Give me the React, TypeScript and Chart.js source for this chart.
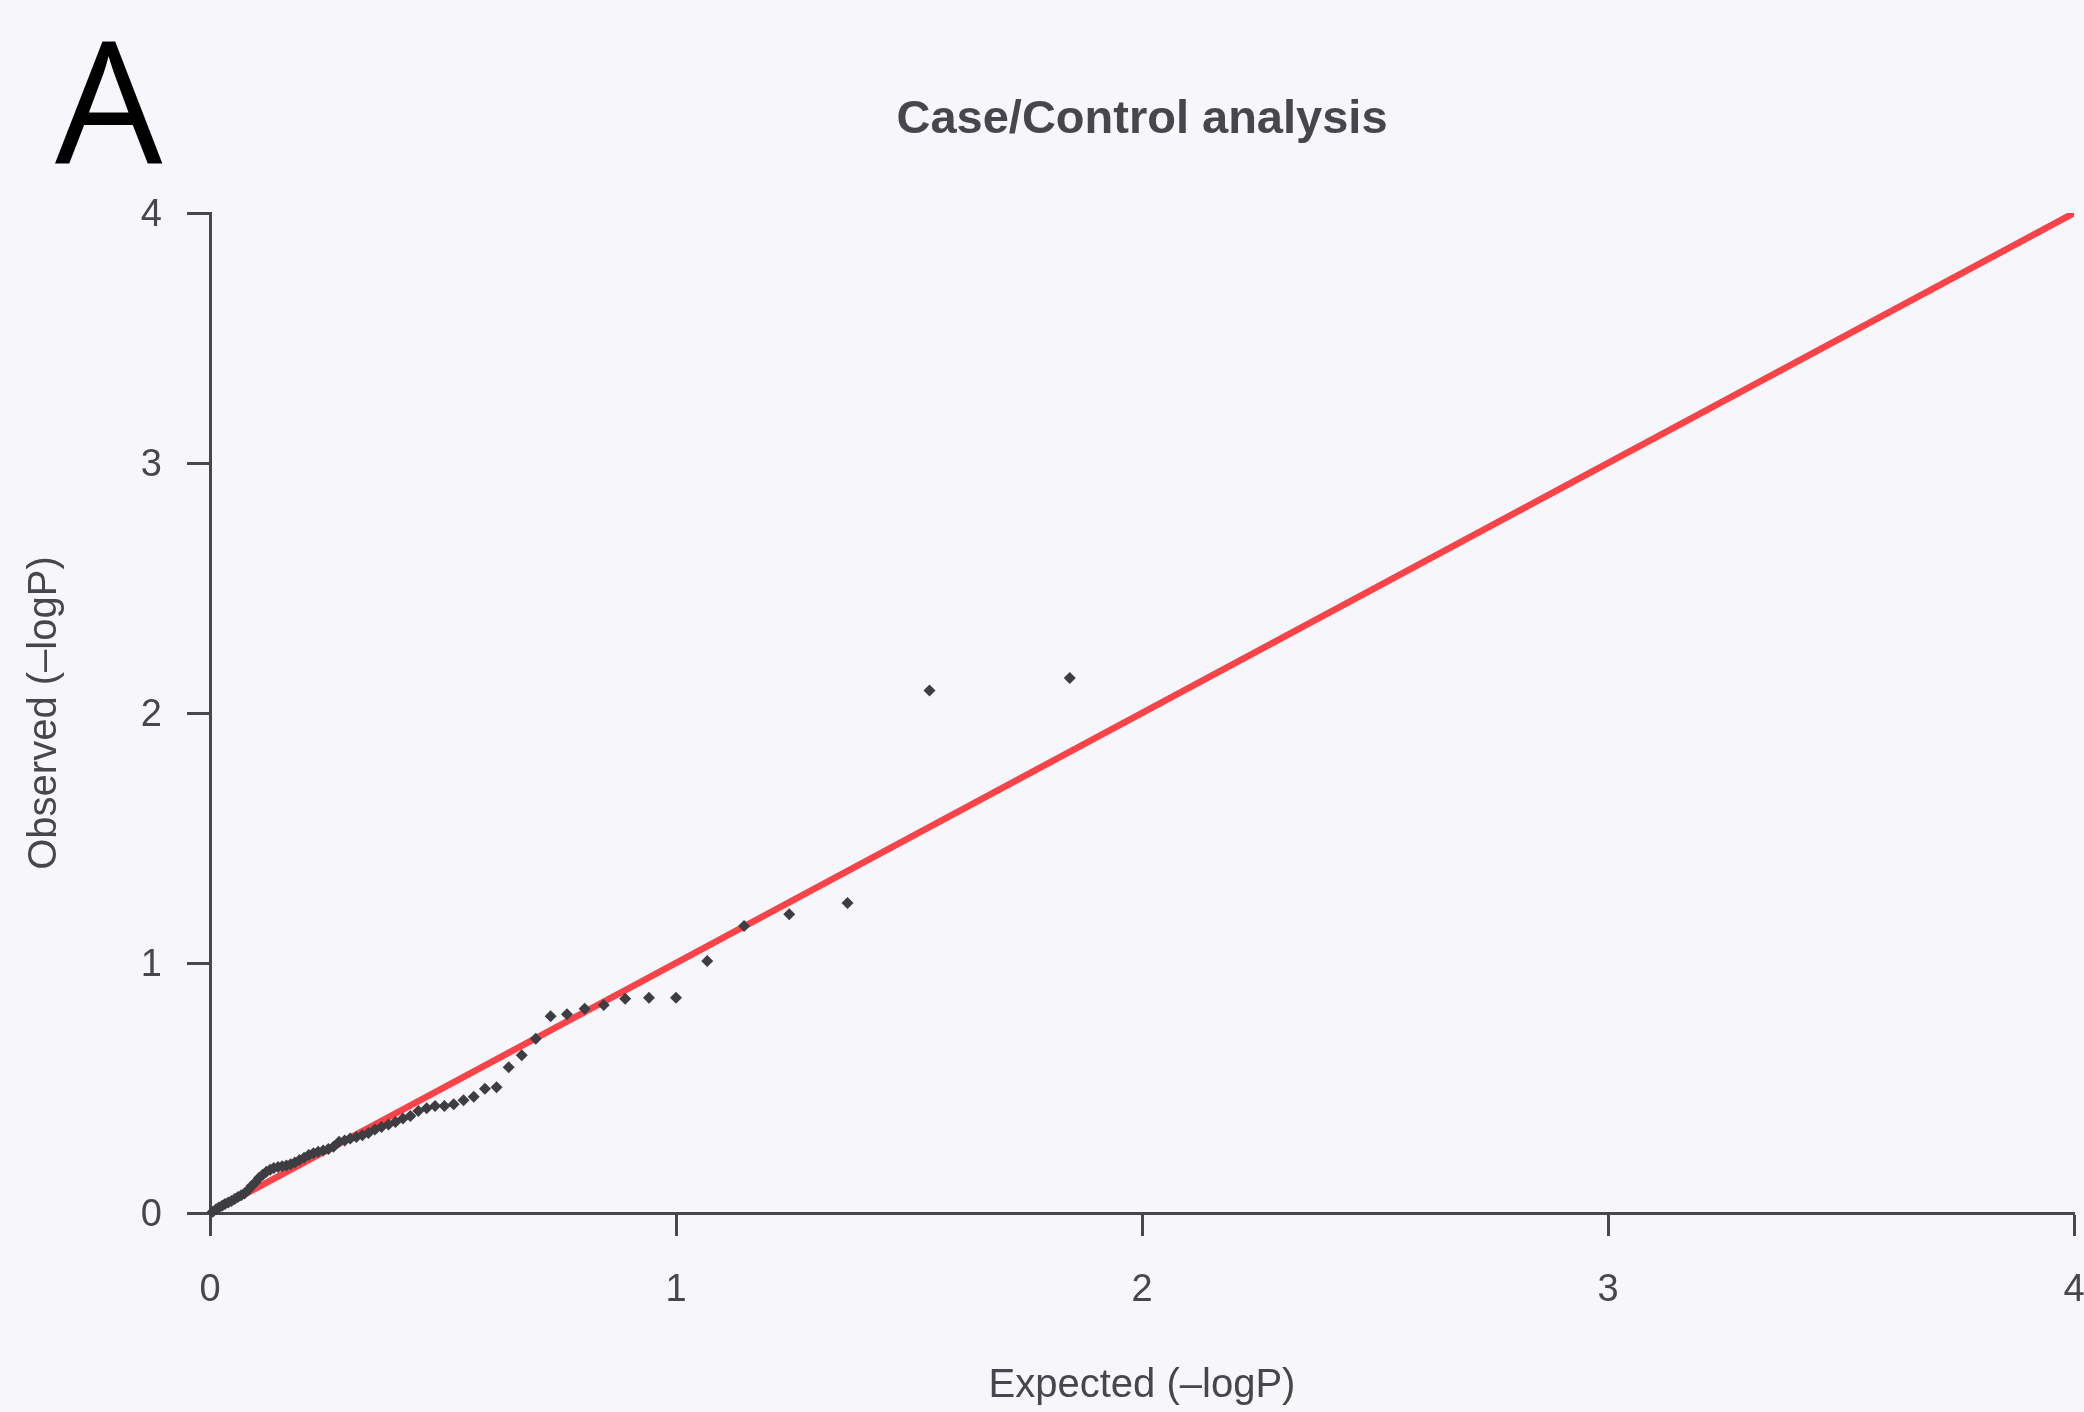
import React, { useEffect, useRef } from "react";
import { Chart, registerables } from "chart.js";

Chart.register(...registerables);

// Expected -logP (sorted, largest first)
const expected = [
  1.845, 1.544, 1.368, 1.243, 1.146, 1.067, 1.0, 0.942, 0.891, 0.845,
  0.804, 0.766, 0.731, 0.699, 0.669, 0.641, 0.615, 0.59, 0.566, 0.544,
  0.523, 0.503, 0.483, 0.465, 0.447, 0.43, 0.414, 0.398, 0.383, 0.368,
  0.354, 0.34, 0.327, 0.314, 0.301, 0.289, 0.277, 0.265, 0.254, 0.243,
  0.232, 0.222, 0.212, 0.202, 0.192, 0.182, 0.173, 0.164, 0.155, 0.146,
  0.137, 0.129, 0.121, 0.113, 0.105, 0.097, 0.089, 0.082, 0.074, 0.067,
  0.06, 0.053, 0.046, 0.039, 0.032, 0.026, 0.019, 0.013, 0.006,
];

// Observed -logP (sorted, largest first)
const observed = [
  2.14, 2.09, 1.24, 1.195, 1.148, 1.008, 0.861, 0.861, 0.857, 0.832,
  0.817, 0.795, 0.787, 0.697, 0.631, 0.583, 0.503, 0.497, 0.465, 0.451,
  0.435, 0.428, 0.428, 0.419, 0.408, 0.388, 0.378, 0.364, 0.354, 0.344,
  0.334, 0.32, 0.311, 0.304, 0.298, 0.29, 0.285, 0.265, 0.256, 0.25,
  0.245, 0.239, 0.232, 0.221, 0.212, 0.202, 0.195, 0.19, 0.187, 0.184,
  0.18, 0.173, 0.165, 0.153, 0.14, 0.122, 0.108, 0.092, 0.078, 0.071,
  0.064, 0.056, 0.048, 0.042, 0.036, 0.029, 0.022, 0.015, 0.005,
];

// Reference line y = x
const refLineX = [0, 4];
const refLineY = [0, 4];

const xTicks = [0, 1, 2, 3, 4];
const yTicks = [0, 1, 2, 3, 4];

const titleText = "Case/Control analysis";
const xTitle = "Expected (–logP)";
const yTitle = "Observed (–logP)";
const panelLabel = "A";

const BG = "#f7f6fa";
const TEXT = "#48464c";
const AXIS = "#48474c";
const POINT = "#3e3d42";
const RED = "#f84448";
const FONT = '"Liberation Sans", Arial, Helvetica, sans-serif';

export default function App() {
  const canvasRef = useRef<HTMLCanvasElement | null>(null);

  useEffect(() => {
    document.body.style.margin = "0";
    document.body.style.background = BG;
    const canvas = canvasRef.current;
    if (!canvas) return;

    const bgPlugin = {
      id: "bgFill",
      beforeDraw(chart: any) {
        const { ctx, width, height } = chart;
        ctx.save();
        ctx.fillStyle = BG;
        ctx.fillRect(0, 0, width, height);
        ctx.restore();
      },
    };

    const panelPlugin = {
      id: "panelLabel",
      afterDraw(chart: any) {
        const { ctx } = chart;
        ctx.save();
        ctx.fillStyle = "#000000";
        ctx.font = '170px "Open Sans", "Noto Sans", sans-serif';
        ctx.textAlign = "left";
        ctx.textBaseline = "alphabetic";
        ctx.fillText(panelLabel, 55, 164);
        ctx.restore();
      },
    };

    const chart = new Chart(canvas, {
      type: "scatter",
      data: {
        datasets: [
          {
            label: "observed",
            data: expected.map((x, i) => ({ x, y: observed[i] })),
            pointStyle: "rectRot",
            pointRadius: 6,
            pointBorderWidth: 0,
            backgroundColor: POINT,
            borderColor: POINT,
            showLine: false,
            clip: 10,
          },
          {
            label: "expected",
            data: refLineX.map((x, i) => ({ x, y: refLineY[i] })),
            showLine: true,
            borderColor: RED,
            borderWidth: 6.5,
            pointRadius: 0,
            fill: false,
          },
        ],
      },
      options: {
        responsive: false,
        animation: false,
        events: [],
        layout: { padding: { left: 0, right: 10, top: 0, bottom: 0 } },
        plugins: {
          legend: { display: false },
          tooltip: { enabled: false },
          title: {
            display: true,
            text: titleText,
            fullSize: false,
            color: TEXT,
            font: { family: FONT, size: 47, weight: "bold" },
            padding: { top: 92, bottom: 64.6 },
          },
        },
        scales: {
          x: {
            type: "linear",
            min: 0,
            max: 4,
            afterBuildTicks: (s: any) => {
              s.ticks = xTicks.map((v) => ({ value: v }));
            },
            ticks: {
              color: TEXT,
              font: { family: FONT, size: 38 },
              padding: 32,
              maxRotation: 0,
              autoSkip: false,
            },
            grid: {
              drawOnChartArea: false,
              drawTicks: true,
              tickLength: 23,
              tickWidth: 3,
              tickColor: AXIS,
            },
            border: { display: true, color: AXIS, width: 3 },
            title: {
              display: true,
              text: xTitle,
              color: TEXT,
              font: { family: FONT, size: 40 },
              padding: { top: 0, bottom: 2 },
            },
            afterFit: (s: any) => {
              s.height = 199;
              s.paddingLeft = 0;
              s.paddingRight = 0;
            },
          },
          y: {
            type: "linear",
            min: 0,
            max: 4,
            afterBuildTicks: (s: any) => {
              s.ticks = yTicks.map((v) => ({ value: v }));
            },
            ticks: {
              color: TEXT,
              font: { family: FONT, size: 38 },
              padding: 25,
              labelOffset: 3,
              autoSkip: false,
            },
            grid: {
              drawOnChartArea: false,
              drawTicks: true,
              tickLength: 23,
              tickWidth: 3,
              tickColor: AXIS,
            },
            border: { display: true, color: AXIS, width: 3 },
            title: {
              display: true,
              text: yTitle,
              color: TEXT,
              font: { family: FONT, size: 40 },
              padding: { top: 21, bottom: 0 },
            },
            afterFit: (s: any) => {
              s.width = 210;
              s.paddingTop = 0;
              s.paddingBottom = 0;
            },
          },
        },
      },
      plugins: [bgPlugin, panelPlugin],
    } as any);

    return () => {
      chart.destroy();
    };
  }, []);

  return (
    <div
      style={{
        position: "fixed",
        left: 0,
        top: 0,
        width: 2084,
        height: 1412,
        background: BG,
        overflow: "hidden",
      }}
    >
      <canvas
        ref={canvasRef}
        width={2084}
        height={1412}
        style={{ display: "block", width: 2084, height: 1412 }}
      />
    </div>
  );
}
